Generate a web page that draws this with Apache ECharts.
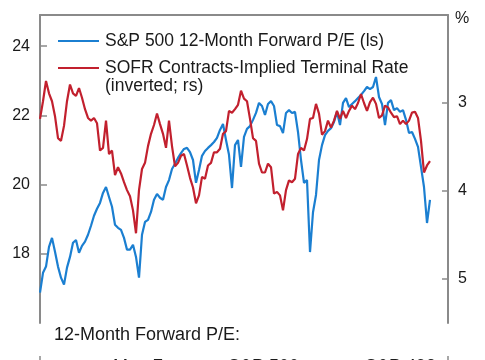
<!DOCTYPE html>
<html>
<head>
<meta charset="utf-8">
<script src="https://cdn.jsdelivr.net/npm/echarts@6/dist/echarts.min.js"></script>
<style>
html,body{margin:0;padding:0;background:#fff;}
#chart{width:485px;height:360px;}
</style>
</head>
<body>
<div id="chart"></div>
<script>
// S&P 500 12-month forward P/E (left scale), weekly-ish samples
const spxPE = [
  16.88, 17.45, 17.63, 18.20, 18.46, 18.06, 17.63, 17.31, 17.11, 17.60,
  17.91, 18.32, 18.40, 18.03, 18.23, 18.35, 18.55, 18.81, 19.10, 19.30,
  19.47, 19.76, 19.93, 19.64, 19.36, 18.84, 18.75, 18.69, 18.46, 18.12,
  18.12, 18.26, 17.91, 17.31, 18.55, 18.92, 18.98, 19.21, 19.56, 19.73,
  19.62, 19.56, 19.93, 20.13, 20.45, 20.60, 20.77, 20.91, 21.03, 21.06,
  20.94, 20.71, 20.05, 20.42, 20.83, 20.97, 21.06, 21.14, 21.23, 21.35,
  21.58, 21.75, 21.29, 20.86, 19.90, 21.14, 21.29, 20.51, 21.38, 21.61,
  21.69, 21.87, 22.07, 22.36, 22.27, 22.01, 22.33, 22.41, 22.27, 21.72,
  21.69, 21.49, 22.07, 22.15, 22.07, 22.10, 21.52, 20.71, 20.05, 20.13,
  18.05, 19.20, 19.70, 20.71, 21.14, 21.43, 21.55, 21.63, 21.81, 22.10,
  21.72, 22.36, 22.50, 22.24, 22.33, 22.41, 22.50, 22.59, 22.70, 22.82,
  22.76, 22.82, 23.11, 22.53, 22.33, 21.72, 22.36, 22.44, 22.15, 22.21,
  22.10, 22.15, 21.87, 21.49, 21.52, 21.32, 21.09, 20.51, 19.93, 18.89, 19.56
];
// SOFR contracts-implied terminal rate, % (right scale, inverted)
const sofrTerminal = [
  3.18, 2.98, 2.75, 2.89, 2.98, 3.15, 3.40, 3.43, 3.26, 2.98,
  2.79, 2.89, 2.92, 2.83, 2.94, 3.07, 3.17, 3.20, 3.17, 3.23,
  3.54, 3.51, 3.20, 3.58, 3.54, 3.82, 3.73, 3.80, 3.90, 3.99,
  4.06, 4.22, 4.48, 3.99, 3.75, 3.68, 3.49, 3.35, 3.25, 3.12,
  3.24, 3.35, 3.51, 3.20, 3.49, 3.72, 3.68, 3.60, 3.58, 3.71,
  3.85, 3.96, 4.14, 4.05, 3.84, 3.86, 3.71, 3.68, 3.56, 3.56,
  3.52, 3.35, 3.32, 3.09, 3.11, 3.07, 3.02, 2.86, 2.95, 2.98,
  3.18, 3.40, 3.43, 3.69, 3.79, 3.79, 3.69, 3.73, 4.03, 4.01,
  4.05, 4.22, 3.99, 3.88, 3.90, 3.86, 3.58, 3.51, 3.54, 3.41,
  3.18, 3.17, 3.01, 3.12, 3.36, 3.32, 3.20, 3.28, 3.20, 3.09,
  3.18, 3.09, 3.17, 3.09, 3.03, 3.07, 3.00, 2.90, 3.00, 3.09,
  2.99, 2.94, 3.01, 3.17, 3.14, 3.03, 3.05, 3.11, 3.16, 3.15,
  3.24, 3.20, 3.24, 3.20, 3.11, 3.10, 3.17, 3.43, 3.79, 3.71, 3.66
];
const leftTicks = [18, 20, 22, 24];
const rightTicks = [3, 4, 5];
const seriesNames = ['S&P 500 12-Month Forward P/E (ls)', 'SOFR Contracts-Implied Terminal Rate\n(inverted; rs)'];
const bottomTitle = '12-Month Forward P/E:';
const bottomItems = ['Mag 7', 'S&P 500', 'S&P 493'];

const FONT = '"Liberation Sans", Arial, sans-serif';
const AXIS_COLOR = '#8a8a8a';
const BLUE = '#1b7fd1';
const RED = '#c2202e';

const chart = echarts.init(document.getElementById('chart'), null, {renderer: 'canvas'});
const toPairs = arr => arr.map((v, i) => [i, v]);

chart.setOption({
  animation: false,
  backgroundColor: '#fff',
  grid: {left: 40, right: 37, top: 15, bottom: 37, containLabel: false},
  xAxis: {
    type: 'value', min: 0, max: 136, position: 'top',
    axisLine: {show: true, lineStyle: {color: AXIS_COLOR, width: 2}},
    axisTick: {show: false}, axisLabel: {show: false}, splitLine: {show: false}
  },
  yAxis: [
    {
      type: 'value', min: 16, max: 24.9, position: 'left',
      axisLine: {show: true, lineStyle: {color: AXIS_COLOR, width: 2}},
      axisTick: {show: true, inside: true, length: 7, customValues: leftTicks, lineStyle: {color: AXIS_COLOR, width: 1.5}},
      axisLabel: {customValues: leftTicks, margin: 10, color: '#1a1a1a', fontSize: 16, fontFamily: FONT},
      splitLine: {show: false}
    },
    {
      type: 'value', min: 2, max: 5.5, inverse: true, position: 'right',
      axisLine: {show: true, lineStyle: {color: AXIS_COLOR, width: 2}},
      axisTick: {show: true, inside: true, length: 6, customValues: rightTicks, lineStyle: {color: AXIS_COLOR, width: 1.5}},
      axisLabel: {customValues: rightTicks, margin: 10, color: '#1a1a1a', fontSize: 16, fontFamily: FONT},
      splitLine: {show: false}
    }
  ],
  series: [
    {
      name: seriesNames[0], type: 'line', yAxisIndex: 0, data: toPairs(spxPE),
      symbol: 'none', lineStyle: {color: BLUE, width: 2.2}, z: 2
    },
    {
      name: seriesNames[1], type: 'line', yAxisIndex: 1, data: toPairs(sofrTerminal),
      symbol: 'none', lineStyle: {color: RED, width: 2.2}, z: 3
    }
  ],
  graphic: [
    {type: 'line', shape: {x1: 58, y1: 41, x2: 99, y2: 41}, style: {stroke: BLUE, lineWidth: 2}, z: 10},
    {type: 'text', x: 105, y: 41, style: {text: seriesNames[0], fill: '#1a1a1a', font: '17.5px ' + FONT, textVerticalAlign: 'middle'}, z: 10},
    {type: 'line', shape: {x1: 58, y1: 68, x2: 99, y2: 68}, style: {stroke: RED, lineWidth: 2}, z: 10},
    {type: 'text', x: 105, y: 59, style: {text: seriesNames[1], fill: '#1a1a1a', font: '17.5px ' + FONT, lineHeight: 18, textVerticalAlign: 'top'}, z: 10},
    {type: 'text', x: 455, y: 19, style: {text: '%', fill: '#1a1a1a', font: '16px ' + FONT, textVerticalAlign: 'middle'}, z: 10},
    {type: 'text', x: 54, y: 335, style: {text: bottomTitle, fill: '#1a1a1a', font: '18px ' + FONT, textVerticalAlign: 'middle'}, z: 10},
    {type: 'text', x: 113, y: 367, style: {text: bottomItems[0], fill: '#1a1a1a', font: '18px ' + FONT, textVerticalAlign: 'middle'}, z: 10},
    {type: 'text', x: 228, y: 367, style: {text: bottomItems[1], fill: '#1a1a1a', font: '18px ' + FONT, textVerticalAlign: 'middle'}, z: 10},
    {type: 'text', x: 365, y: 367, style: {text: bottomItems[2], fill: '#1a1a1a', font: '18px ' + FONT, textVerticalAlign: 'middle'}, z: 10},
    {type: 'line', shape: {x1: 40, y1: 356, x2: 40, y2: 360}, style: {stroke: AXIS_COLOR, lineWidth: 1.5}, z: 10},
    {type: 'line', shape: {x1: 448, y1: 356, x2: 448, y2: 360}, style: {stroke: AXIS_COLOR, lineWidth: 1.5}, z: 10}
  ]
});
</script>
</body>
</html>
